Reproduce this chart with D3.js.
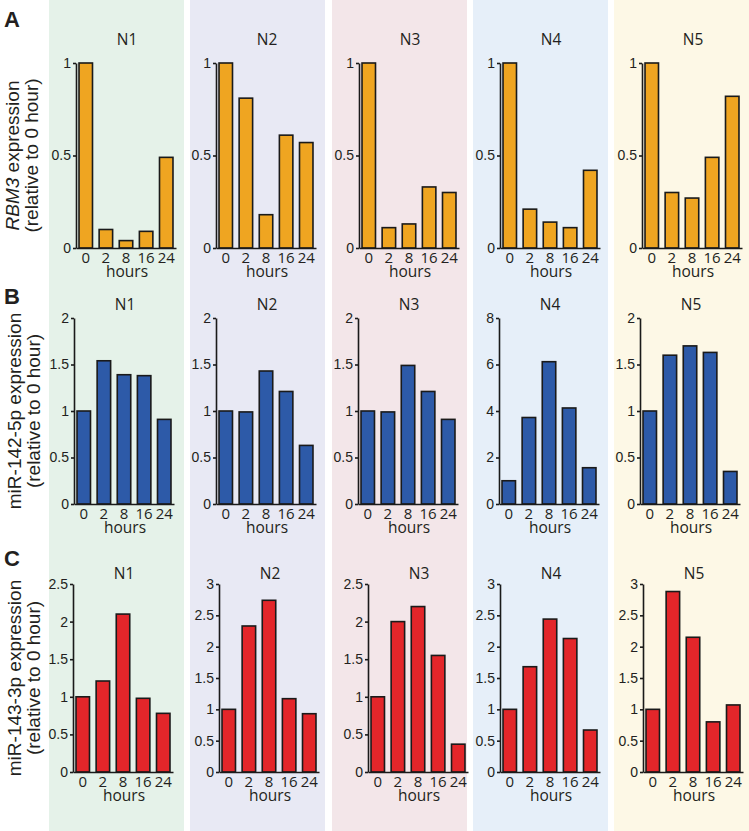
<!DOCTYPE html>
<html>
<head>
<meta charset="utf-8">
<script src="https://cdn.jsdelivr.net/npm/d3@7"></script>
<style>
  body { margin: 0; background: #fff; }
  svg text { fill: #231f20; }
</style>
</head>
<body>
<svg id="chart" width="749" height="831"></svg>
<script>
// Time points and donors
const hours = ['0', '2', '8', '16', '24'];
const donors = ['N1', 'N2', 'N3', 'N4', 'N5'];

// Row A: RBM3 expression, one array per donor
const rbm3 = [
    [1, 0.10, 0.04, 0.09, 0.49],
    [1, 0.81, 0.18, 0.61, 0.57],
    [1, 0.11, 0.13, 0.33, 0.30],
    [1, 0.21, 0.14, 0.11, 0.42],
    [1, 0.30, 0.27, 0.49, 0.82]
];

// Row B: miR-142-5p expression
const mir142 = [
    [1, 1.54, 1.39, 1.38, 0.91],
    [1, 0.99, 1.43, 1.21, 0.63],
    [1, 0.99, 1.49, 1.21, 0.91],
    [1, 3.72, 6.12, 4.13, 1.56],
    [1, 1.60, 1.70, 1.63, 0.35]
];

// Row C: miR-143-3p expression
const mir143 = [
    [1, 1.21, 2.10, 0.98, 0.78],
    [1, 2.33, 2.74, 1.17, 0.93],
    [1, 2.00, 2.20, 1.55, 0.37],
    [1, 1.68, 2.44, 2.13, 0.67],
    [1, 2.88, 2.15, 0.80, 1.07]
];

// Y tick labels per panel
const ticksA = [0, 0.5, 1];
const ticks2 = [0, 0.5, 1, 1.5, 2];
const ticks8 = [0, 2, 4, 6, 8];
const ticks25 = [0, 0.5, 1, 1.5, 2, 2.5];
const ticks3 = [0, 0.5, 1, 1.5, 2, 2.5, 3];
const rbm3Ticks = [ticksA, ticksA, ticksA, ticksA, ticksA];
const mir142Ticks = [ticks2, ticks2, ticks2, ticks8, ticks2];
const mir143Ticks = [ticks25, ticks3, ticks25, ticks3, ticks3];

const svg = d3.select('#chart');
const sansArial = "'Liberation Sans', Arial, sans-serif";
const sansMyriad = "'Open Sans', sans-serif";

// Background bands, one per donor
const bandX = [49, 190, 332, 473, 614];
const bandColors = ['#e5f2e9', '#e8e9f4', '#f3e6e9', '#e6eff9', '#fdf8e6'];
svg.append('g')
    .selectAll('rect')
    .data(bandX)
    .enter()
    .append('rect')
    .attr('x', d => d)
    .attr('y', 0)
    .attr('width', 135)
    .attr('height', 831)
    .attr('fill', (d, i) => bandColors[i]);

// Row layouts
const rows = [
    { letter: 'A', letterY: 27, values: rbm3, ticks: rbm3Ticks, color: '#efa521',
      top: 63, zero: 248, titleY: 45, axisX: [76, 216, 359, 500, 642],
      labelX: [19, 38], line1: ['RBM3', ' expression'] },
    { letter: 'B', letterY: 304, values: mir142, ticks: mir142Ticks, color: '#2d5aa8',
      top: 318, zero: 504, titleY: 310, axisX: [74, 216, 358, 499, 640],
      labelX: [21, 40], line1: [null, 'miR-142-5p expression'] },
    { letter: 'C', letterY: 566, values: mir143, ticks: mir143Ticks, color: '#e3262a',
      top: 584, zero: 772, titleY: 579, axisX: [73, 219, 368, 500, 643],
      labelX: [21, 40], line1: [null, 'miR-143-3p expression'] }
];

rows.forEach(row => {
    // Panel letter
    svg.append('text')
        .attr('x', 4)
        .attr('y', row.letterY)
        .style('font-family', sansArial)
        .style('font-weight', 'bold')
        .style('font-size', '22px')
        .text(row.letter);

    // Y axis label (two lines, rotated)
    const cy = (row.top + row.zero) / 2;
    const l1 = svg.append('text')
        .attr('transform', `translate(${row.labelX[0]},${cy}) rotate(-90)`)
        .attr('text-anchor', 'middle')
        .style('font-family', sansArial)
        .style('font-size', '19px');
    if (row.line1[0]) {
        l1.append('tspan').style('font-style', 'italic').text(row.line1[0]);
    }
    l1.append('tspan').text(row.line1[1]);

    svg.append('text')
        .attr('transform', `translate(${row.labelX[1]},${cy}) rotate(-90)`)
        .attr('text-anchor', 'middle')
        .style('font-family', sansArial)
        .style('font-size', '19px')
        .text('(relative to 0 hour)');

    donors.forEach((donor, i) => {
        const ax = row.axisX[i];
        const ticks = row.ticks[i];
        const vals = row.values[i];

        const x = d3.scaleBand()
            .domain(hours)
            .range([ax, ax + 100])
            .paddingInner(0.33)
            .paddingOuter(0.15);

        const y = d3.scaleLinear()
            .domain([0, ticks[ticks.length - 1]])
            .range([row.zero, row.top]);

        const g = svg.append('g');

        // Bars
        g.selectAll('rect')
            .data(vals)
            .enter()
            .append('rect')
            .attr('x', (d, j) => x(hours[j]))
            .attr('y', d => y(d))
            .attr('width', x.bandwidth())
            .attr('height', d => y(0) - y(d))
            .attr('fill', row.color)
            .attr('stroke', '#1a1a1a')
            .attr('stroke-width', 1.6);

        // Y axis
        const yAxis = g.append('g')
            .attr('transform', `translate(${ax},0)`)
            .attr('font-size', null)
            .attr('font-family', null)
            .call(d3.axisLeft(y)
                .tickValues(ticks)
                .tickFormat(d => d)
                .tickSize(3)
                .tickSizeOuter(0)
                .tickPadding(2));
        yAxis.attr('font-size', 14).attr('font-family', sansArial);
        yAxis.selectAll('text')
            .attr('fill', '#231f20');

        // X axis
        const xAxis = g.append('g')
            .attr('transform', `translate(0,${row.zero})`)
            .call(d3.axisBottom(x).tickSize(0).tickSizeOuter(0).tickPadding(4));
        xAxis.attr('font-size', 15).attr('font-family', sansMyriad);
        xAxis.selectAll('text')
            .attr('fill', '#231f20');

        g.selectAll('.domain, .tick line')
            .attr('stroke', '#1a1a1a')
            .attr('stroke-width', 1.6);

        // x axis title
        g.append('text')
            .attr('x', ax + 51)
            .attr('y', row.zero + 29)
            .attr('text-anchor', 'middle')
            .style('font-family', sansMyriad)
            .style('font-size', '15.5px')
            .text('hours');

        // Donor title
        g.append('text')
            .attr('x', ax + 51)
            .attr('y', row.titleY)
            .attr('text-anchor', 'middle')
            .style('font-family', sansMyriad)
            .style('font-size', '15.5px')
            .text(donor);
    });
});
</script>
</body>
</html>
